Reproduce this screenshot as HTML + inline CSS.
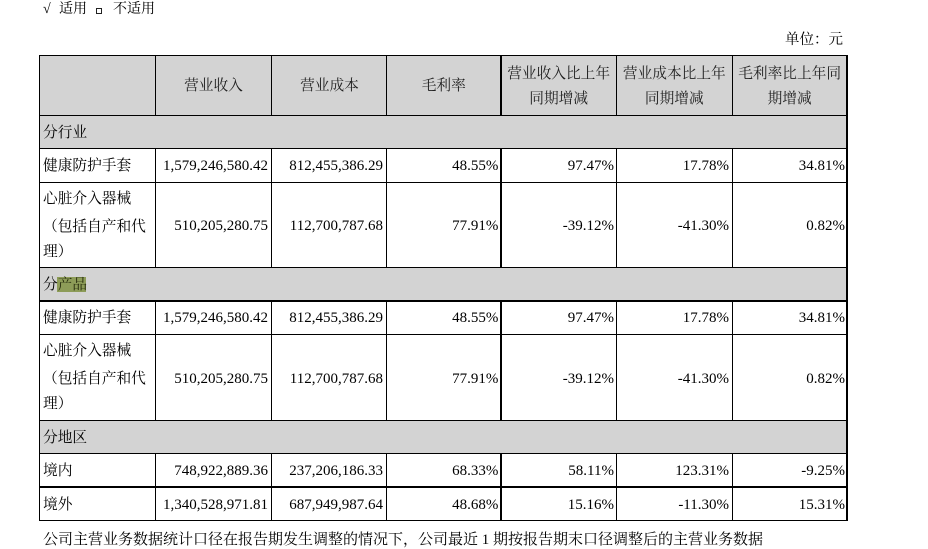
<!DOCTYPE html>
<html><head><meta charset="utf-8">
<style>
html,body{margin:0;padding:0;background:#fff;}
#c{position:relative;width:928px;height:549px;overflow:hidden;background:#fff;
font-family:"Liberation Serif","Noto Serif CJK SC",serif;color:#000;}
.h{position:absolute;height:1.6px;background:#000;}
.v{position:absolute;width:1.6px;background:#000;}
.g{position:absolute;background:#d3d3d3;}
.t{position:absolute;height:20px;line-height:20px;white-space:nowrap;font-size:14.7px;}
.n{position:absolute;height:20px;line-height:20px;white-space:nowrap;font-size:15px;text-align:right;}
.hd{color:#222;text-align:center;width:116px;}
</style></head><body>
<div id="c">
<!-- top line -->
<div class="t" style="left:43px;top:0px;font-size:14px;">√</div>
<div class="t" style="left:59px;top:0px;font-size:14px;">适用</div>
<div style="position:absolute;left:96px;top:8px;width:4px;height:4px;border:1.2px solid #222;"></div>
<div class="t" style="left:113px;top:0px;font-size:14px;">不适用</div>
<div class="t" style="left:785px;top:30px;font-size:14.5px;">单位：元</div>

<!-- gray fills -->
<div class="g" style="left:39.5px;top:55.5px;width:807.5px;height:60px;"></div>
<div class="g" style="left:39.5px;top:115.5px;width:807.5px;height:33px;"></div>
<div class="g" style="left:39.5px;top:267.3px;width:807.5px;height:33.7px;"></div>
<div class="g" style="left:39.5px;top:420.3px;width:807.5px;height:33px;"></div>
<div style="position:absolute;left:57px;top:277px;width:29px;height:14.5px;background:#8d9c58;"></div>

<!-- horizontal lines -->
<div class="h" style="left:38.7px;width:809px;top:54.7px;"></div>
<div class="h" style="left:38.7px;width:809px;top:114.7px;"></div>
<div class="h" style="left:38.7px;width:809px;top:147.7px;"></div>
<div class="h" style="left:38.7px;width:809px;top:181.5px;"></div>
<div class="h" style="left:38.7px;width:809px;top:266.5px;"></div>
<div class="h" style="left:38.7px;width:809px;top:300.2px;"></div>
<div class="h" style="left:38.7px;width:809px;top:333.5px;"></div>
<div class="h" style="left:38.7px;width:809px;top:419.5px;"></div>
<div class="h" style="left:38.7px;width:809px;top:452.5px;"></div>
<div class="h" style="left:38.7px;width:809px;top:486.2px;"></div>
<div class="h" style="left:38.7px;width:809px;top:519.5px;"></div>

<!-- outer verticals -->
<div class="v" style="left:38.7px;top:54.7px;height:466.4px;"></div>
<div class="v" style="left:846.2px;top:54.7px;height:466.4px;"></div>

<!-- inner verticals: segments -->
<div class="v" style="left:154.7px;top:54.7px;height:61px;"></div>
<div class="v" style="left:270.7px;top:54.7px;height:61px;"></div>
<div class="v" style="left:385.7px;top:54.7px;height:61px;"></div>
<div class="v" style="left:500.2px;top:54.7px;height:61px;"></div>
<div class="v" style="left:615.5px;top:54.7px;height:61px;"></div>
<div class="v" style="left:731.5px;top:54.7px;height:61px;"></div>

<div class="v" style="left:154.7px;top:147.7px;height:119.6px;"></div>
<div class="v" style="left:270.7px;top:147.7px;height:119.6px;"></div>
<div class="v" style="left:385.7px;top:147.7px;height:119.6px;"></div>
<div class="v" style="left:500.2px;top:147.7px;height:119.6px;"></div>
<div class="v" style="left:615.5px;top:147.7px;height:119.6px;"></div>
<div class="v" style="left:731.5px;top:147.7px;height:119.6px;"></div>

<div class="v" style="left:154.7px;top:300.2px;height:120px;"></div>
<div class="v" style="left:270.7px;top:300.2px;height:120px;"></div>
<div class="v" style="left:385.7px;top:300.2px;height:120px;"></div>
<div class="v" style="left:500.2px;top:300.2px;height:120px;"></div>
<div class="v" style="left:615.5px;top:300.2px;height:120px;"></div>
<div class="v" style="left:731.5px;top:300.2px;height:120px;"></div>

<div class="v" style="left:154.7px;top:452.5px;height:68px;"></div>
<div class="v" style="left:270.7px;top:452.5px;height:68px;"></div>
<div class="v" style="left:385.7px;top:452.5px;height:68px;"></div>
<div class="v" style="left:500.2px;top:452.5px;height:68px;"></div>
<div class="v" style="left:615.5px;top:452.5px;height:68px;"></div>
<div class="v" style="left:731.5px;top:452.5px;height:68px;"></div>

<!-- header text -->
<div class="t hd" style="left:155.5px;top:76px;">营业收入</div>
<div class="t hd" style="left:271.5px;top:76px;">营业成本</div>
<div class="t hd" style="left:386.5px;top:76px;width:114.5px;">毛利率</div>
<div class="t hd" style="left:501px;top:64px;width:115.3px;">营业收入比上年</div>
<div class="t hd" style="left:501px;top:89px;width:115.3px;">同期增减</div>
<div class="t hd" style="left:616.3px;top:64px;">营业成本比上年</div>
<div class="t hd" style="left:616.3px;top:89px;">同期增减</div>
<div class="t hd" style="left:732.3px;top:64px;width:114.7px;">毛利率比上年同</div>
<div class="t hd" style="left:732.3px;top:89px;width:114.7px;">期增减</div>

<!-- section: 分行业 -->
<div class="t" style="left:43px;top:122.5px;">分行业</div>

<!-- row 健康 1 -->
<div class="t" style="left:43px;top:155.5px;">健康防护手套</div>
<div class="n" style="right:660px;top:155.5px;">1,579,246,580.42</div>
<div class="n" style="right:545px;top:155.5px;">812,455,386.29</div>
<div class="n" style="right:429.7px;top:155.5px;">48.55%</div>
<div class="n" style="right:314px;top:155.5px;">97.47%</div>
<div class="n" style="right:199px;top:155.5px;">17.78%</div>
<div class="n" style="right:83px;top:155.5px;">34.81%</div>

<!-- row 心脏 1 -->
<div class="t" style="left:43px;top:189.3px;">心脏介入器械</div>
<div class="t" style="left:43px;top:216.7px;">（包括自产和代</div>
<div class="t" style="left:43px;top:241.7px;">理）</div>
<div class="n" style="right:660px;top:216px;">510,205,280.75</div>
<div class="n" style="right:545px;top:216px;">112,700,787.68</div>
<div class="n" style="right:429.7px;top:216px;">77.91%</div>
<div class="n" style="right:314px;top:216px;">-39.12%</div>
<div class="n" style="right:199px;top:216px;">-41.30%</div>
<div class="n" style="right:83px;top:216px;">0.82%</div>

<!-- section: 分产品 -->
<div class="t" style="left:43px;top:274.5px;">分<span style="color:#2a3010;">产品</span></div>

<!-- row 健康 2 -->
<div class="t" style="left:43px;top:308.3px;">健康防护手套</div>
<div class="n" style="right:660px;top:308.3px;">1,579,246,580.42</div>
<div class="n" style="right:545px;top:308.3px;">812,455,386.29</div>
<div class="n" style="right:429.7px;top:308.3px;">48.55%</div>
<div class="n" style="right:314px;top:308.3px;">97.47%</div>
<div class="n" style="right:199px;top:308.3px;">17.78%</div>
<div class="n" style="right:83px;top:308.3px;">34.81%</div>

<!-- row 心脏 2 -->
<div class="t" style="left:43px;top:341.3px;">心脏介入器械</div>
<div class="t" style="left:43px;top:368.7px;">（包括自产和代</div>
<div class="t" style="left:43px;top:393.7px;">理）</div>
<div class="n" style="right:660px;top:368.5px;">510,205,280.75</div>
<div class="n" style="right:545px;top:368.5px;">112,700,787.68</div>
<div class="n" style="right:429.7px;top:368.5px;">77.91%</div>
<div class="n" style="right:314px;top:368.5px;">-39.12%</div>
<div class="n" style="right:199px;top:368.5px;">-41.30%</div>
<div class="n" style="right:83px;top:368.5px;">0.82%</div>

<!-- section: 分地区 -->
<div class="t" style="left:43px;top:428.3px;">分地区</div>

<!-- 境内 -->
<div class="t" style="left:43px;top:461px;">境内</div>
<div class="n" style="right:660px;top:461px;">748,922,889.36</div>
<div class="n" style="right:545px;top:461px;">237,206,186.33</div>
<div class="n" style="right:429.7px;top:461px;">68.33%</div>
<div class="n" style="right:314px;top:461px;">58.11%</div>
<div class="n" style="right:199px;top:461px;">123.31%</div>
<div class="n" style="right:83px;top:461px;">-9.25%</div>

<!-- 境外 -->
<div class="t" style="left:43px;top:495px;">境外</div>
<div class="n" style="right:660px;top:495px;">1,340,528,971.81</div>
<div class="n" style="right:545px;top:495px;">687,949,987.64</div>
<div class="n" style="right:429.7px;top:495px;">48.68%</div>
<div class="n" style="right:314px;top:495px;">15.16%</div>
<div class="n" style="right:199px;top:495px;">-11.30%</div>
<div class="n" style="right:83px;top:495px;">15.31%</div>

<!-- footer -->
<div class="t" style="left:43px;top:530px;font-size:15px;letter-spacing:0px;">公司主营业务数据统计口径在报告期发生调整的情况下，公司最近 1 期按报告期末口径调整后的主营业务数据</div>
</div>
</body></html>
